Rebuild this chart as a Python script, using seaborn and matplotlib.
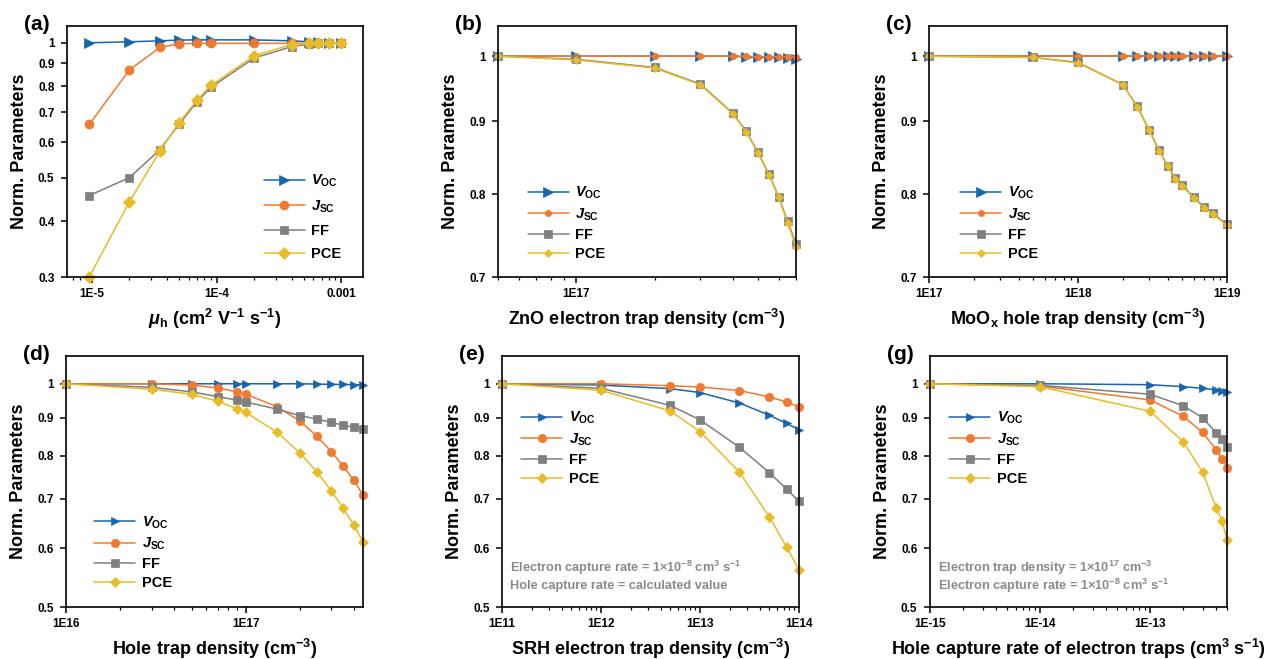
import matplotlib
matplotlib.use("Agg")
import matplotlib.pyplot as plt
import seaborn as sns
import numpy as np
import pandas as pd
from matplotlib.ticker import LogLocator, NullLocator, NullFormatter

# ---------------- data ----------------
series_names = [r"$\mathit{V}_{\mathrm{OC}}$", r"$\mathit{J}_{\mathrm{SC}}$", "FF", "PCE"]

a_x = [9.5e-6, 2e-5, 3.5e-5, 5e-5, 7e-5, 9e-5, 2e-4, 4e-4, 5.5e-4, 6.5e-4, 8e-4, 1e-3]
a_voc = [1.0, 1.005, 1.010, 1.014, 1.015, 1.015, 1.015, 1.010, 1.005, 1.002, 1.0, 1.0]
a_jsc = [0.657, 0.870, 0.976, 0.995, 0.997, 0.997, 0.997, 0.997, 0.997, 0.998, 1.0, 1.0]
a_ff = [0.456, 0.500, 0.577, 0.658, 0.739, 0.795, 0.924, 0.980, 0.993, 0.997, 0.998, 1.0]
a_pce = [0.300, 0.442, 0.572, 0.663, 0.746, 0.803, 0.935, 0.991, 0.997, 0.998, 1.0, 1.0]

b_x = [5e16, 1e17, 2e17, 3e17, 4e17, 4.5e17, 5e17, 5.5e17, 6e17, 6.5e17, 7e17]
b_voc = [1.0, 1.0, 1.0, 1.0, 1.0, 0.999, 0.999, 0.999, 0.998, 0.997, 0.996]
b_jsc = [1.0, 1.0, 1.0, 1.0, 1.0, 1.0, 0.999, 0.999, 0.999, 0.999, 0.999]
b_ff = [1.0, 0.995, 0.982, 0.956, 0.912, 0.886, 0.856, 0.827, 0.797, 0.766, 0.738]
b_pce = [1.0, 0.994, 0.981, 0.955, 0.911, 0.885, 0.855, 0.826, 0.796, 0.764, 0.735]

c_x = [1e17, 5e17, 1e18, 2e18, 2.5e18, 3e18, 3.5e18, 4e18, 4.5e18, 5e18, 6e18, 7e18, 8e18, 1e19]
c_voc = [1.0, 1.0, 1.0, 1.0, 1.0, 1.0, 1.0, 1.0, 1.0, 1.0, 1.0, 1.0, 1.0, 1.0]
c_jsc = [1.0, 1.0, 1.0, 1.0, 1.0, 1.0, 1.0, 1.0, 1.0, 1.0, 1.0, 1.0, 1.0, 1.0]
c_ff = [1.0, 0.998, 0.990, 0.955, 0.922, 0.888, 0.859, 0.838, 0.821, 0.812, 0.796, 0.784, 0.776, 0.762]
c_pce = [1.0, 0.998, 0.989, 0.955, 0.921, 0.887, 0.858, 0.837, 0.820, 0.811, 0.795, 0.783, 0.775, 0.761]

d_x = [1e16, 3e16, 5e16, 7e16, 9e16, 1e17, 1.5e17, 2e17, 2.5e17, 3e17, 3.5e17, 4e17, 4.5e17]
d_voc = [1.0, 1.0, 1.0, 1.0, 1.0, 1.0, 1.0, 1.0, 0.999, 0.998, 0.998, 0.997, 0.997]
d_jsc = [1.0, 1.0, 0.996, 0.987, 0.975, 0.968, 0.931, 0.891, 0.849, 0.810, 0.774, 0.741, 0.708]
d_ff = [1.0, 0.989, 0.975, 0.961, 0.950, 0.945, 0.924, 0.906, 0.896, 0.887, 0.879, 0.874, 0.868]
d_pce = [1.0, 0.983, 0.968, 0.947, 0.925, 0.915, 0.860, 0.807, 0.760, 0.717, 0.679, 0.645, 0.612]

e_x = [1e11, 1e12, 5e12, 1e13, 2.5e13, 5e13, 7.5e13, 1e14]
e_voc = [1.0, 0.996, 0.985, 0.973, 0.942, 0.907, 0.884, 0.867]
e_jsc = [1.0, 1.0, 0.994, 0.990, 0.979, 0.960, 0.945, 0.930]
e_ff = [1.0, 0.986, 0.935, 0.894, 0.821, 0.759, 0.721, 0.694]
e_pce = [1.0, 0.980, 0.919, 0.862, 0.760, 0.662, 0.602, 0.561]

g_x = [1e-15, 1e-14, 1e-13, 2e-13, 3e-13, 4e-13, 4.5e-13, 5e-13]
g_voc = [1.0, 1.0, 0.997, 0.991, 0.986, 0.981, 0.977, 0.974]
g_jsc = [1.0, 0.993, 0.951, 0.904, 0.860, 0.814, 0.792, 0.771]
g_ff = [1.0, 0.995, 0.968, 0.934, 0.900, 0.858, 0.843, 0.822]
g_pce = [1.0, 0.991, 0.918, 0.835, 0.760, 0.680, 0.654, 0.616]

a_xticks = [1e-5, 1e-4, 1e-3]
a_xticklabels = ["1E-5", "1E-4", "0.001"]
b_xticks = [1e17]
b_xticklabels = ["1E17"]
c_xticks = [1e17, 1e18, 1e19]
c_xticklabels = ["1E17", "1E18", "1E19"]
d_xticks = [1e16, 1e17]
d_xticklabels = ["1E16", "1E17"]
e_xticks = [1e11, 1e12, 1e13, 1e14]
e_xticklabels = ["1E11", "1E12", "1E13", "1E14"]
g_xticks = [1e-15, 1e-14, 1e-13]
g_xticklabels = ["1E-15", "1E-14", "1E-13"]

yticks_a = [0.3, 0.4, 0.5, 0.6, 0.7, 0.8, 0.9, 1.0]
yticks_bc = [0.7, 0.8, 0.9, 1.0]
yticks_deg = [0.5, 0.6, 0.7, 0.8, 0.9, 1.0]

xlabels = {
    "a": r"$\mathit{\mu}_{\mathrm{h}}$ (cm$^{2}$ V$^{-1}$ s$^{-1}$)",
    "b": r"ZnO electron trap density (cm$^{-3}$)",
    "c": r"MoO$_{\mathrm{x}}$ hole trap density (cm$^{-3}$)",
    "d": r"Hole trap density (cm$^{-3}$)",
    "e": r"SRH electron trap density (cm$^{-3}$)",
    "g": r"Hole capture rate of electron traps (cm$^{3}$ s$^{-1}$)",
}
note_e = ["Electron capture rate = 1\u00d710$^{-8}$ cm$^{3}$ s$^{-1}$",
          "Hole capture rate = calculated value"]
note_g = ["Electron trap density = 1\u00d710$^{17}$ cm$^{-3}$",
          "Electron capture rate = 1\u00d710$^{-8}$ cm$^{3}$ s$^{-1}$"]

# ---------------- style ----------------
sns.set_theme(style="ticks")
plt.rcParams.update({
    "font.family": ["Liberation Sans", "DejaVu Sans"],
    "font.weight": "bold",
    "mathtext.fontset": "custom",
    "mathtext.rm": "Liberation Sans:bold",
    "mathtext.it": "Liberation Sans:italic:bold",
    "mathtext.bf": "Liberation Sans:bold",
    "mathtext.default": "regular",
    "axes.linewidth": 1.2,
    "axes.edgecolor": "black",
    "text.color": "black",
    "axes.labelcolor": "black",
    "xtick.color": "black",
    "ytick.color": "black",
    "xtick.labelcolor": "black",
    "ytick.labelcolor": "black",
})

colors = ["#1865ab", "#f07a30", "#7f7f7f", "#e8bc28"]
markers = [">", "o", "s", "D"]

fig = plt.figure(figsize=(12.69, 6.59), dpi=100)
W, H = 1269.0, 659.0


def make_ax(L, R, T, B):
    return fig.add_axes([L / W, 1 - B / H, (R - L) / W, (B - T) / H])


panels = [
    dict(key="a", box=(67, 363, 26, 277), x=a_x, ys=[a_voc, a_jsc, a_ff, a_pce],
         xlim=(6.3e-6, 1.5e-3), ylim=(0.3, 1.09), yt=yticks_a,
         xt=a_xticks, xtl=a_xticklabels, ms=[6.5, 6.5, 6, 6],
         leg=(0.665, 0.415), ls=0.62),
    dict(key="b", box=(498, 796, 26, 277), x=b_x, ys=[b_voc, b_jsc, b_ff, b_pce],
         xlim=(5e16, 7e17), ylim=(0.7, 1.05), yt=yticks_bc,
         xt=b_xticks, xtl=b_xticklabels, ms=[7, 4.5, 6, 4],
         leg=(0.10, 0.367), ls=0.35),
    dict(key="c", box=(929, 1227, 26, 277), x=c_x, ys=[c_voc, c_jsc, c_ff, c_pce],
         xlim=(1e17, 1e19), ylim=(0.7, 1.05), yt=yticks_bc,
         xt=c_xticks, xtl=c_xticklabels, ms=[7, 4.5, 6, 4],
         leg=(0.105, 0.367), ls=0.35),
    dict(key="d", box=(66, 363, 356, 607), x=d_x, ys=[d_voc, d_jsc, d_ff, d_pce],
         xlim=(1e16, 4.5e17), ylim=(0.5, 1.09), yt=yticks_deg,
         xt=d_xticks, xtl=d_xticklabels, ms=[6, 6, 5.5, 5.5],
         leg=(0.095, 0.37), ls=0.35),
    dict(key="e", box=(502, 799, 356, 607), x=e_x, ys=[e_voc, e_jsc, e_ff, e_pce],
         xlim=(1e11, 1e14), ylim=(0.5, 1.09), yt=yticks_deg,
         xt=e_xticks, xtl=e_xticklabels, ms=[6, 6, 5.5, 5.5],
         leg=(0.065, 0.785), ls=0.35, note=note_e),
    dict(key="g", box=(930, 1227, 356, 607), x=g_x, ys=[g_voc, g_jsc, g_ff, g_pce],
         xlim=(1e-15, 5e-13), ylim=(0.5, 1.09), yt=yticks_deg,
         xt=g_xticks, xtl=g_xticklabels, ms=[6, 6, 5.5, 5.5],
         leg=(0.065, 0.785), ls=0.35, note=note_g),
]

for p in panels:
    L, R, T, B = p["box"]
    ax = make_ax(L, R, T, B)
    ax.set_xscale("log")
    ax.set_yscale("log")
    for name, yv, col, mk, ms in zip(series_names, p["ys"], colors, markers, p["ms"]):
        df = pd.DataFrame({"x": p["x"], "y": yv})
        sns.lineplot(data=df, x="x", y="y", ax=ax, color=col, marker=mk,
                     markersize=ms, markeredgecolor=col, markeredgewidth=0.5,
                     linewidth=1.1, label=name, sort=False, errorbar=None,
                     clip_on=False)
    ax.set_xlim(*p["xlim"])
    ax.set_ylim(*p["ylim"])
    ax.set_yticks(p["yt"])
    ax.set_yticklabels([f"{v:g}" for v in p["yt"]])
    ax.yaxis.set_minor_locator(NullLocator())
    ax.set_xticks(p["xt"])
    ax.set_xticklabels(p["xtl"])
    ax.xaxis.set_minor_locator(LogLocator(base=10, subs=np.arange(2, 10), numticks=50))
    ax.xaxis.set_minor_formatter(NullFormatter())
    ax.tick_params(axis="both", which="major", direction="out", length=4, width=1.1,
                   labelsize=8.5, top=False, right=False, color="black",
                   labelcolor="black")
    ax.tick_params(axis="y", which="major", pad=5)
    ax.tick_params(axis="x", which="major", pad=4)
    ax.tick_params(axis="x", which="minor", direction="out", length=2.5, width=0.9,
                   top=False, color="black")
    for lab in ax.get_xticklabels() + ax.get_yticklabels():
        lab.set_fontweight("bold")
    for s in ax.spines.values():
        s.set_linewidth(1.2)
        s.set_color("black")
        s.set_visible(True)
    ax.set_xlabel(xlabels[p["key"]], fontsize=13, fontweight="bold", labelpad=5,
                  color="black")
    ax.set_ylabel("Norm. Parameters", fontsize=13, fontweight="bold", labelpad=7,
                  color="black")
    ax.grid(False)
    leg = ax.legend(loc="upper left", bbox_to_anchor=p["leg"], frameon=False,
                    fontsize=10.5, handlelength=2.8, handletextpad=0.45,
                    labelspacing=p["ls"], borderpad=0, borderaxespad=0)
    for t in leg.get_texts():
        t.set_fontweight("bold")
        t.set_color("black")
    if "note" in p:
        ax.text(0.027, 0.155, p["note"][0], transform=ax.transAxes, fontsize=9.2,
                fontweight="bold", color="#8a8a8a", va="center", ha="left")
        ax.text(0.027, 0.085, p["note"][1], transform=ax.transAxes, fontsize=9.2,
                fontweight="bold", color="#8a8a8a", va="center", ha="left")
    fig.text((L - 30) / W, 1 - (T - 2) / H, f"({p['key']})", fontsize=15,
             fontweight="bold", ha="center", va="center", color="black")

fig.savefig("out.png", dpi=100)
